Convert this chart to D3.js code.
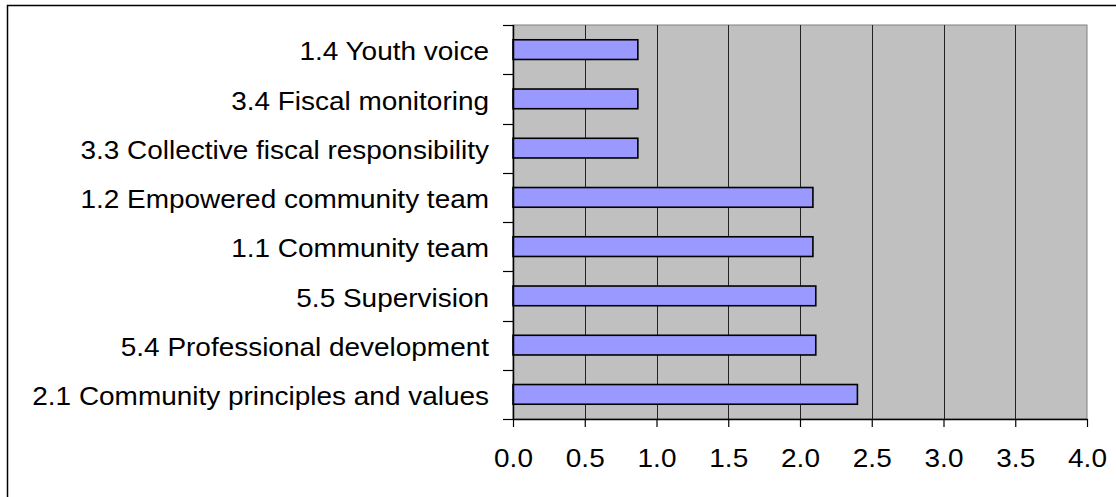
<!DOCTYPE html>
<html>
<head>
<meta charset="utf-8">
<script src="https://cdn.jsdelivr.net/npm/d3@7"></script>
<style>
  html, body { margin: 0; padding: 0; background: #fff; }
  svg { display: block; }
  text { font-family: "Liberation Sans", Arial, sans-serif; fill: #000; }
</style>
</head>
<body>
<svg id="chart" width="1116" height="497"></svg>
<script>
// Standards, top to bottom
const categories = [
  "1.4 Youth voice",
  "3.4 Fiscal monitoring",
  "3.3 Collective fiscal responsibility",
  "1.2 Empowered community team",
  "1.1 Community team",
  "5.5 Supervision",
  "5.4 Professional development",
  "2.1 Community principles and values"
];
// Average rating per standard
const scores = [0.87, 0.87, 0.87, 2.09, 2.09, 2.11, 2.11, 2.4];
// Value axis ticks
const xTicks = [0, 0.5, 1, 1.5, 2, 2.5, 3, 3.5, 4];

const svg = d3.select("#chart");
const W = 1116, H = 497;
const plot = { left: 513, top: 25, right: 1087, bottom: 419 };
const fontSize = 26, stretch = 1.075;

// Outer chart frame
svg.append("rect")
  .attr("x", 7.5).attr("y", 5.5)
  .attr("width", W + 20).attr("height", H + 20)
  .attr("fill", "#fff").attr("stroke", "#000").attr("stroke-width", 1.5);

const x = d3.scaleLinear().domain([0, 4]).range([plot.left, plot.right]);
const y = d3.scaleBand().domain(categories).range([plot.top, plot.bottom])
  .paddingInner(0.6).paddingOuter(0.3);
const yEdges = d3.scaleBand().domain(categories).range([plot.top, plot.bottom]);

// Plot area
svg.append("rect")
  .attr("x", plot.left).attr("y", plot.top)
  .attr("width", plot.right - plot.left).attr("height", plot.bottom - plot.top)
  .attr("fill", "#c0c0c0").attr("stroke", "#808080").attr("stroke-width", 1);

// Vertical gridlines
svg.append("g")
  .selectAll("line")
  .data(xTicks.slice(1, -1))
  .join("line")
  .attr("x1", d => Math.round(x(d)) + 0.5).attr("x2", d => Math.round(x(d)) + 0.5)
  .attr("y1", plot.top).attr("y2", plot.bottom)
  .attr("stroke", "#222").attr("stroke-width", 1);

// Bars
svg.append("g")
  .selectAll("rect")
  .data(categories.map((c, i) => ({ c, v: scores[i] })))
  .join("rect")
  .attr("x", x(0))
  .attr("y", d => y(d.c))
  .attr("width", d => x(d.v) - x(0))
  .attr("height", y.bandwidth())
  .attr("fill", "#9999ff")
  .attr("stroke", "#000")
  .attr("stroke-width", 1.6);

function stretchText(sel) {
  sel.selectAll("text").each(function () {
    const len = this.getComputedTextLength();
    d3.select(this).attr("textLength", len * stretch).attr("lengthAdjust", "spacingAndGlyphs");
  });
}

// Category axis: ticks on band boundaries, labels at band centres
const yAxisG = svg.append("g").attr("transform", `translate(${plot.left},0)`);
yAxisG.append("line")
  .attr("x1", 0.5).attr("x2", 0.5).attr("y1", plot.top).attr("y2", plot.bottom)
  .attr("stroke", "#000").attr("stroke-width", 1.5);
const edges = categories.map(c => yEdges(c)).concat([plot.bottom]);
yAxisG.selectAll("line.tick")
  .data(edges)
  .join("line")
  .attr("class", "tick")
  .attr("x1", -10).attr("x2", 0)
  .attr("y1", d => Math.round(d) + 0.5).attr("y2", d => Math.round(d) + 0.5)
  .attr("stroke", "#000").attr("stroke-width", 1.2);
yAxisG.selectAll("text")
  .data(categories)
  .join("text")
  .attr("x", -24)
  .attr("y", d => yEdges(d) + yEdges.bandwidth() / 2)
  .attr("dy", "0.41em")
  .attr("text-anchor", "end")
  .style("font-size", fontSize + "px")
  .text(d => d);
stretchText(yAxisG);

// Value axis
const xAxisG = svg.append("g")
  .attr("transform", `translate(0,${plot.bottom})`)
  .call(d3.axisBottom(x).tickValues(xTicks).tickFormat(d3.format(".1f"))
    .tickSizeInner(8).tickSizeOuter(0).tickPadding(22));
xAxisG.select(".domain").attr("stroke", "#000").attr("stroke-width", 1.5);
xAxisG.selectAll(".tick line").attr("stroke", "#000").attr("stroke-width", 1.2);
xAxisG.selectAll("text")
  .style("font-size", fontSize + "px")
  .style("font-family", "'Liberation Sans', Arial, sans-serif")
  .attr("fill", "#000");
stretchText(xAxisG);
</script>
</body>
</html>
